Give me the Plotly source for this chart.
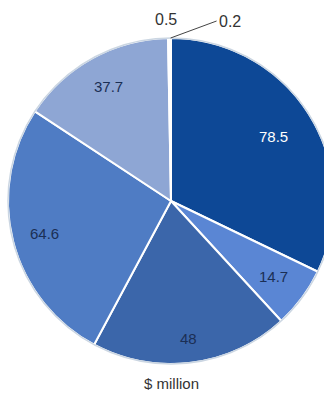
import math
import plotly.graph_objects as go

# Segment values ($ million), clockwise from 12 o'clock
values = [78.5, 14.7, 48.0, 64.6, 37.7, 0.5, 0.2]
colors = ["#0d4896", "#5a86d4", "#3b66aa", "#4f7cc4", "#8ea6d4", "#c5cde6", "#eef2fa"]
text_colors = ["#ffffff", "#1b2f55", "#1b2f55", "#1b2f55", "#1b2f55", "#1b2f55", "#1b2f55"]
unit_label = "$ million"

W, H = 334, 394
ML, MR, MT, MB = 8, 0, 38, 30
D = 326  # pie diameter in px
FONT = "Liberation Sans, Arial, sans-serif"

labels = [f"{v:g}" for v in values]

fig = go.Figure(
    go.Pie(
        values=values,
        textinfo="none",
        sort=False,
        direction="clockwise",
        rotation=0,
        marker=dict(colors=colors, line=dict(color="#ffffff", width=2)),
        hoverinfo="skip",
        showlegend=False,
        domain=dict(x=[0, 1], y=[0, 1]),
    )
)

# faint outer rim
fig.add_shape(type="circle", xref="paper", yref="paper", x0=0, y0=0, x1=1, y1=1,
              line=dict(color="#cbd6e2", width=1.5))

# centre and radius in paper units
cx, cy = 0.5, 0.5
rx, ry = 0.5, 0.5


def polar_point(frac, r):
    ang = 2 * math.pi * frac  # clockwise from top
    return cx + rx * r * math.sin(ang), cy + ry * r * math.cos(ang)


total = sum(values)
cum = 0.0
mids = []
for v in values:
    mids.append((cum + v / 2) / total)
    cum += v

# value labels inside the larger slices, set out towards the rim
label_r = [0.74, 0.78, 0.85, 0.80, 0.80]
for i, r in enumerate(label_r):
    x, y = polar_point(mids[i], r)
    fig.add_annotation(
        x=x, y=y, xref="paper", yref="paper", text=labels[i], showarrow=False,
        xanchor="center", yanchor="middle",
        font=dict(family=FONT, size=15, color=text_colors[i]),
    )

# 0.5 label above the top edge
x5, y5 = polar_point(mids[5], 1.0)
fig.add_annotation(
    x=x5 - 0.01, y=1.0, xref="paper", yref="paper", xanchor="center", yanchor="bottom",
    text=labels[5], showarrow=False, yshift=8,
    font=dict(family=FONT, size=16, color="#333333"),
)
# 0.2 label with leader line
x2, y2 = polar_point(mids[6], 1.0)
fig.add_annotation(
    x=x2, y=y2, xref="paper", yref="paper",
    text=labels[6], showarrow=True, arrowhead=0, arrowwidth=1, arrowcolor="#444444",
    ax=46, ay=-17, xanchor="left",
    font=dict(family=FONT, size=16, color="#333333"),
)
# unit caption below the pie
fig.add_annotation(
    x=(171 - ML) / D, y=0, xref="paper", yref="paper", xanchor="center", yanchor="top",
    yshift=-9, text=unit_label, showarrow=False,
    font=dict(family=FONT, size=15, color="#333333"),
)

fig.update_layout(
    width=W, height=H,
    margin=dict(l=ML, r=MR, t=MT, b=MB, pad=0),
    paper_bgcolor="#ffffff", plot_bgcolor="#ffffff",
)

fig.write_html(
    "out.html",
    config={"displayModeBar": False},
    post_script="document.documentElement.style.overflow='hidden';document.body.style.overflow='hidden';document.body.style.margin='0';",
)
